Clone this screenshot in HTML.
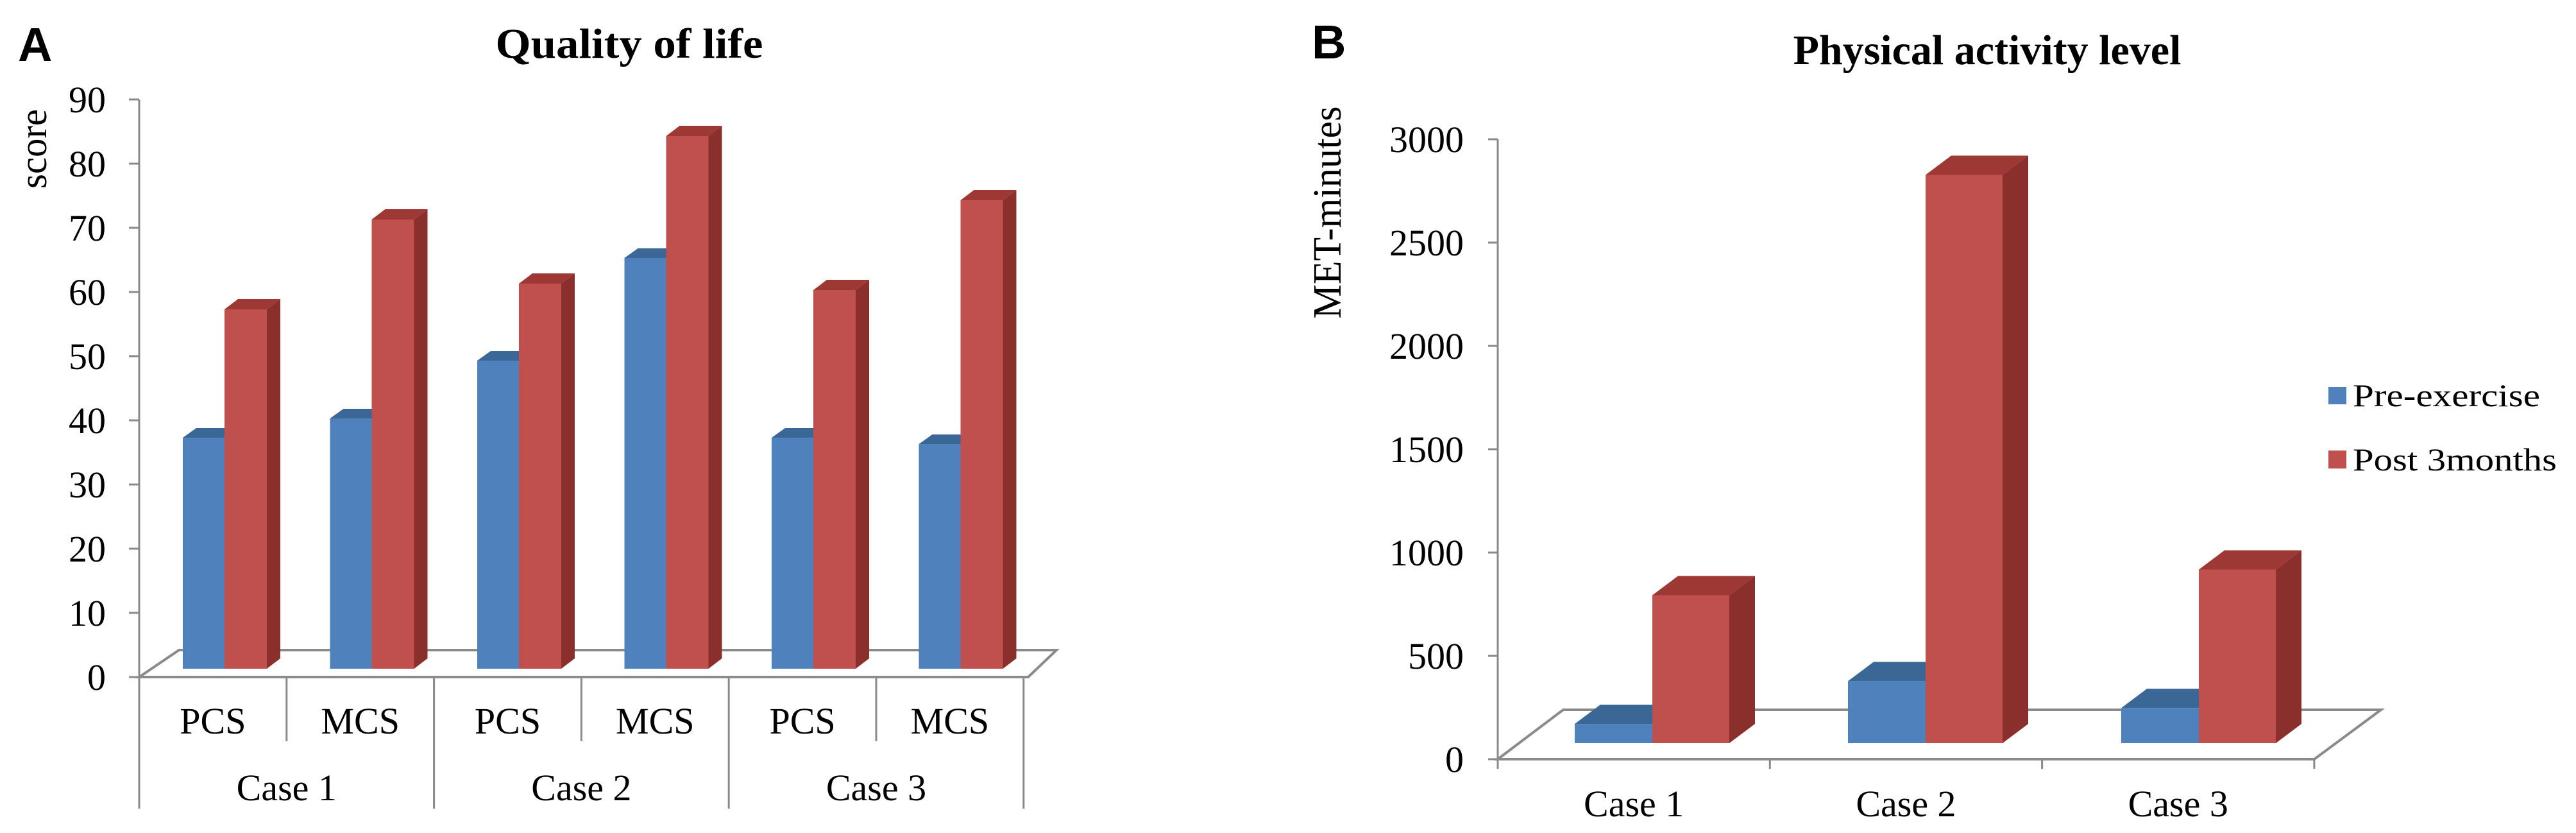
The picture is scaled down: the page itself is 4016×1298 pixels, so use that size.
<!DOCTYPE html>
<html><head><meta charset="utf-8"><style>
html,body{margin:0;padding:0;background:#fff;width:4016px;height:1298px;overflow:hidden}
svg text{font-family:"Liberation Serif",serif;fill:#000}
</style></head><body>
<svg id="s" width="4016" height="1298" viewBox="0 0 4016 1298" xmlns="http://www.w3.org/2000/svg">
<text x="28" y="95" style="font-family:'Liberation Sans',sans-serif;font-weight:bold;font-size:74px">A</text>
<text x="981" y="90" text-anchor="middle" font-weight="bold" font-size="66" textLength="417" lengthAdjust="spacingAndGlyphs">Quality of life</text>
<text transform="translate(72,232) rotate(-90)" text-anchor="middle" font-size="60" textLength="124" lengthAdjust="spacingAndGlyphs">score</text>
<text x="2045" y="91" style="font-family:'Liberation Sans',sans-serif;font-weight:bold;font-size:74px">B</text>
<text x="3098" y="100" text-anchor="middle" font-weight="bold" font-size="66">Physical activity level</text>
<text transform="translate(2090,331) rotate(-90)" text-anchor="middle" font-size="62" textLength="331" lengthAdjust="spacingAndGlyphs">MET-minutes</text>
<g>
<rect x="3630" y="603" width="28" height="27" fill="#4F81BD"/>
<text x="3668" y="633" font-size="50" textLength="292" lengthAdjust="spacingAndGlyphs">Pre-exercise</text>
<rect x="3630" y="702" width="28" height="28" fill="#C0504D"/>
<text x="3668" y="733" font-size="50" textLength="318" lengthAdjust="spacingAndGlyphs">Post 3months</text>
</g>
<g id="ga"></g><g id="gb"></g>
</svg>
<script>
// Chart A data
const aGroups = ["Case 1","Case 2","Case 3"];
const aSub = ["PCS","MCS","PCS","MCS","PCS","MCS"];
const aPre = [36,39,48,64,36,35];
const aPost = [56,70,60,83,59,73];
const aTicks = [0,10,20,30,40,50,60,70,80,90];
// Chart B data
const bCats = ["Case 1","Case 2","Case 3"];
const bPre = [93,300,170];
const bPost = [716,2750,840];
const bTicks = [0,500,1000,1500,2000,2500,3000];

const NS="http://www.w3.org/2000/svg";
function mk(p,tag,at){const e=document.createElementNS(NS,tag);for(const k in at)e.setAttribute(k,at[k]);p.appendChild(e);return e;}
const GRAY="#8a8a8a";
function bar3d(g,x,w,yb,yt,dx,dy,c,top,side,name){
  const b=mk(g,'g',{});
  
  
  mk(b,'polygon',{points:`${x+w},${yb} ${x+w+dx},${yb-dy} ${x+w+dx},${yt-dy} ${x+w},${yt}`,fill:side});
  mk(b,'polygon',{points:`${x},${yt} ${x+dx},${yt-dy} ${x+w+dx},${yt-dy} ${x+w},${yt}`,fill:top});
  mk(b,'rect',{x:x,y:yt,width:w,height:yb-yt,fill:c});
}
// ---- Chart A
(function(){
  const g=document.getElementById('ga');
  const ax=217, y0=1055, pu=10;
  const yA=v=>y0-v*pu;
  const ybar=1042, ppu=10;
  const yBar=v=>ybar-v*ppu;
  const xg=i=>285+i*229.5;
  mk(g,'line',{x1:ax,y1:y0,x2:ax,y2:yA(90),stroke:GRAY,'stroke-width':3});
  aTicks.forEach(t=>{
    mk(g,'line',{x1:201,y1:yA(t),x2:ax,y2:yA(t),stroke:GRAY,'stroke-width':3});
    const tx=mk(g,'text',{x:165,y:yA(t)+20,'text-anchor':'end','font-size':58});
    tx.textContent=t;
    
    
  });
  mk(g,'polygon',{points:`${ax},${y0} 279,1013 1647,1013 1603,${y0}`,fill:'none',stroke:GRAY,'stroke-width':4});
  aSub.forEach((s,i)=>{
    const x=xg(i);
    bar3d(g,x,65,ybar,yBar(aPre[i]),21,15,'#4F81BD','#3A6796','#3A6796','bar-pre-'+i);
    bar3d(g,x+65,66,ybar,yBar(aPost[i]),21,16,'#C0504D','#9E3834','#8A2F2C','bar-post-'+i);
    const t=mk(g,'text',{x:ax+(i+0.5)*229.8,y:1143,'text-anchor':'middle','font-size':58});
    t.textContent=s;
    
    
  });
  for(let i=0;i<=6;i++){
    const x=ax+i*229.8;
    mk(g,'line',{x1:x,y1:y0,x2:x,y2:(i%2==0)?1260:1155,stroke:GRAY,'stroke-width':3});
  }
  aGroups.forEach((c,i)=>{
    const t=mk(g,'text',{x:ax+(i*2+1)*229.8,y:1247,'text-anchor':'middle','font-size':58});
    t.textContent=c;
    
    
  });
})();
// ---- Chart B
(function(){
  const g=document.getElementById('gb');
  const ax=2335, y0=1183, pu=966/3000;
  const yA=v=>y0-v*pu;
  const ybar=1158;
  const yBar=v=>ybar-v*pu;
  const xg=i=>2455+i*426;
  mk(g,'line',{x1:ax,y1:y0,x2:ax,y2:yA(3000),stroke:GRAY,'stroke-width':3});
  bTicks.forEach(t=>{
    mk(g,'line',{x1:2320,y1:yA(t),x2:ax,y2:yA(t),stroke:GRAY,'stroke-width':3});
    const tx=mk(g,'text',{x:2282,y:yA(t)+20,'text-anchor':'end','font-size':58});
    tx.textContent=t;
    
    
  });
  mk(g,'polygon',{points:`${ax},${y0} 2437,1106 3712,1106 3608,${y0}`,fill:'none',stroke:GRAY,'stroke-width':4});
  bCats.forEach((c,i)=>{
    const x=xg(i);
    bar3d(g,x,121,ybar,yBar(bPre[i]),40,30,'#4F81BD','#3A6796','#3A6796','bar-pre-'+i);
    bar3d(g,x+121,120,ybar,yBar(bPost[i]),40,30,'#C0504D','#9E3834','#8A2F2C','bar-post-'+i);
    const t=mk(g,'text',{x:ax+(i+0.5)*424.3,y:1272,'text-anchor':'middle','font-size':58});
    t.textContent=c;
    
    
  });
  for(let i=0;i<=3;i++){const x=ax+i*424.3;mk(g,'line',{x1:x,y1:y0,x2:x,y2:1198,stroke:GRAY,'stroke-width':3});}
})();
</script>
</body></html>
